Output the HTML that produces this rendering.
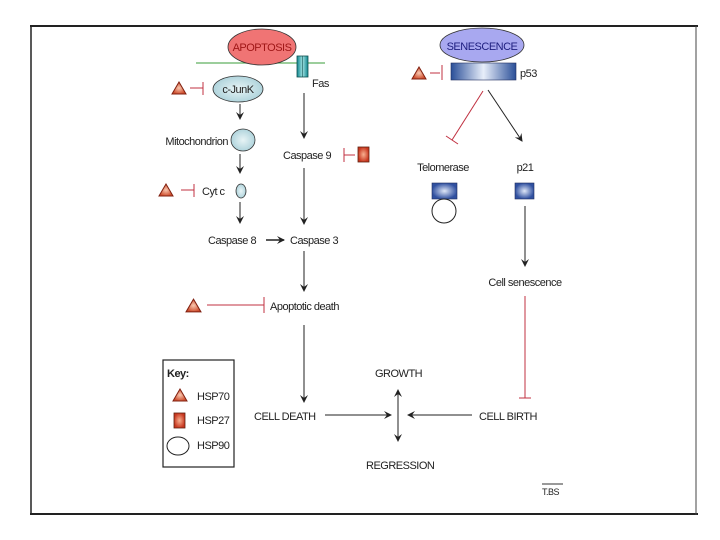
<!DOCTYPE html>
<html><head><meta charset="utf-8"><style>
html,body{margin:0;padding:0;background:#fff;width:720px;height:540px;overflow:hidden}
text{font-family:"Liberation Sans",sans-serif;font-size:11px;fill:#222;letter-spacing:-0.5px}
</style></head><body>
<svg width="720" height="540" viewBox="0 0 720 540" xmlns="http://www.w3.org/2000/svg">
<defs>
<linearGradient id="bg" x1="0" x2="1" y1="0" y2="0"><stop offset="0" stop-color="#2a4f98"/><stop offset="0.5" stop-color="#e8eefa"/><stop offset="1" stop-color="#2a4f98"/></linearGradient>
<radialGradient id="bs"><stop offset="0" stop-color="#e0e8f8"/><stop offset="1" stop-color="#3050a0"/></radialGradient>
<radialGradient id="tri"><stop offset="0" stop-color="#f8c8b0"/><stop offset="1" stop-color="#d05030"/></radialGradient>
<radialGradient id="sq"><stop offset="0" stop-color="#f8b090"/><stop offset="1" stop-color="#c83820"/></radialGradient>
<radialGradient id="lb"><stop offset="0" stop-color="#e8f4f6"/><stop offset="1" stop-color="#b0d4dc"/></radialGradient>
<linearGradient id="teal" x1="0" x2="1"><stop offset="0" stop-color="#108890"/><stop offset="0.5" stop-color="#a0e0e0"/><stop offset="1" stop-color="#108890"/></linearGradient>
<marker id="ar" markerWidth="8" markerHeight="8" refX="7" refY="4" orient="auto" markerUnits="userSpaceOnUse"><path d="M0,0 L8,4 L0,8 L3,4 Z" fill="#222"/></marker>
<symbol id="t" viewBox="0 0 16 14"><polygon points="8,1 15,13 1,13" fill="url(#tri)" stroke="#802010" stroke-width="1"/></symbol>
</defs>
<!-- frame -->
<line x1="30" y1="26" x2="698" y2="26" stroke="#222" stroke-width="2"/>
<line x1="31" y1="26" x2="31" y2="515" stroke="#222" stroke-width="1.5"/>
<line x1="30" y1="514" x2="698" y2="514" stroke="#222" stroke-width="2"/>
<line x1="696" y1="26" x2="696" y2="515" stroke="#444" stroke-width="1"/>

<!-- apoptosis -->
<line x1="196" y1="63" x2="325" y2="63" stroke="#60b060" stroke-width="1.2"/>
<ellipse cx="262" cy="47" rx="34" ry="18" fill="#f07474" stroke="#333" stroke-width="0.8"/>
<text x="262" y="51" text-anchor="middle" style="fill:#a01818">APOPTOSIS</text>
<rect x="297" y="56" width="11" height="21" fill="url(#teal)" stroke="#105050" stroke-width="0.8"/>
<line x1="302.5" y1="56" x2="302.5" y2="77" stroke="#105050" stroke-width="0.6"/>
<text x="312" y="87">Fas</text>
<ellipse cx="238" cy="89" rx="25" ry="13" fill="url(#lb)" stroke="#333" stroke-width="0.8"/>
<text x="238" y="93" text-anchor="middle">c-JunK</text>
<use href="#t" x="171" y="81" width="16" height="14"/>
<line x1="190" y1="88" x2="203" y2="88" stroke="#c03040" stroke-width="1"/>
<line x1="203" y1="82" x2="203" y2="95" stroke="#c03040" stroke-width="1"/>
<line x1="240" y1="104" x2="240" y2="119" stroke="#222" marker-end="url(#ar)"/>
<ellipse cx="243" cy="140" rx="12" ry="11" fill="url(#lb)" stroke="#333" stroke-width="0.8"/>
<text x="228" y="145" text-anchor="end">Mitochondrion</text>
<line x1="240" y1="154" x2="240" y2="173" stroke="#222" marker-end="url(#ar)"/>
<use href="#t" x="158" y="183" width="16" height="14"/>
<line x1="181" y1="190" x2="194" y2="190" stroke="#c03040"/>
<line x1="194" y1="184" x2="194" y2="197" stroke="#c03040"/>
<text x="202" y="195">Cyt c</text>
<ellipse cx="241" cy="191" rx="5" ry="7" fill="url(#lb)" stroke="#333" stroke-width="0.8"/>
<line x1="240" y1="202" x2="240" y2="223" stroke="#222" marker-end="url(#ar)"/>
<text x="208" y="244">Caspase 8</text>
<line x1="266" y1="240" x2="284" y2="240" stroke="#222" stroke-width="1.5" marker-end="url(#ar)"/>
<text x="290" y="244">Caspase 3</text>
<line x1="304" y1="93" x2="304" y2="138" stroke="#222" marker-end="url(#ar)"/>
<text x="283" y="159">Caspase 9</text>
<line x1="344" y1="148" x2="344" y2="162" stroke="#c03040"/>
<line x1="344" y1="155" x2="355" y2="155" stroke="#c03040"/>
<rect x="358" y="147" width="11" height="15" fill="url(#sq)" stroke="#602010" stroke-width="0.8"/>
<line x1="304" y1="168" x2="304" y2="224" stroke="#222" marker-end="url(#ar)"/>
<line x1="304" y1="251" x2="304" y2="291" stroke="#222" marker-end="url(#ar)"/>
<use href="#t" x="185" y="298" width="17" height="15"/>
<line x1="207" y1="305" x2="264" y2="305" stroke="#c03040"/>
<line x1="264" y1="297" x2="264" y2="313" stroke="#c03040"/>
<text x="270" y="310">Apoptotic death</text>
<line x1="304" y1="325" x2="304" y2="402" stroke="#222" marker-end="url(#ar)"/>
<text x="254" y="420">CELL DEATH</text>
<line x1="325" y1="415" x2="391" y2="415" stroke="#222" marker-end="url(#ar)"/>
<text x="375" y="377">GROWTH</text>
<line x1="398" y1="415" x2="398" y2="390" stroke="#222" marker-end="url(#ar)"/>
<line x1="398" y1="415" x2="398" y2="441" stroke="#222" marker-end="url(#ar)"/>
<text x="366" y="469">REGRESSION</text>
<text x="479" y="420">CELL BIRTH</text>
<line x1="472" y1="415" x2="408" y2="415" stroke="#222" marker-end="url(#ar)"/>

<!-- key -->
<rect x="163" y="360" width="71" height="107" fill="#fff" stroke="#222" stroke-width="1.2"/>
<text x="167" y="377" style="font-weight:bold">Key:</text>
<use href="#t" x="172" y="388" width="16" height="14"/>
<text x="197" y="400">HSP70</text>
<rect x="174" y="413" width="11" height="15" fill="url(#sq)" stroke="#602010" stroke-width="0.8"/>
<text x="197" y="424">HSP27</text>
<ellipse cx="178" cy="446" rx="11" ry="9" fill="#fff" stroke="#222"/>
<text x="197" y="449">HSP90</text>

<!-- senescence -->
<ellipse cx="482" cy="45" rx="42" ry="17" fill="#a8a8f0" stroke="#333" stroke-width="0.8"/>
<text x="482" y="50" text-anchor="middle" style="fill:#202080">SENESCENCE</text>
<rect x="451" y="63" width="65" height="17" fill="url(#bg)" stroke="#203060" stroke-width="0.6"/>
<text x="520" y="77">p53</text>
<use href="#t" x="411" y="66" width="16" height="14"/>
<line x1="430" y1="73" x2="440" y2="73" stroke="#c03040"/>
<line x1="442" y1="65" x2="442" y2="80" stroke="#c03040"/>
<line x1="483" y1="91" x2="452" y2="140" stroke="#c03040"/>
<line x1="446" y1="136" x2="458" y2="144" stroke="#c03040"/>
<line x1="488" y1="90" x2="522" y2="141" stroke="#222" marker-end="url(#ar)"/>
<text x="443" y="171" text-anchor="middle">Telomerase</text>
<text x="525" y="171" text-anchor="middle">p21</text>
<rect x="432" y="183" width="25" height="16" fill="url(#bs)" stroke="#203060" stroke-width="0.6"/>
<circle cx="444" cy="211" r="12" fill="#fff" stroke="#222"/>
<rect x="515" y="183" width="19" height="16" fill="url(#bs)" stroke="#203060" stroke-width="0.6"/>
<line x1="525" y1="206" x2="525" y2="266" stroke="#222" marker-end="url(#ar)"/>
<text x="525" y="286" text-anchor="middle">Cell senescence</text>
<line x1="525" y1="296" x2="525" y2="398" stroke="#c03040"/>
<line x1="519" y1="398" x2="531" y2="398" stroke="#c03040"/>
<line x1="542" y1="484" x2="563" y2="484" stroke="#333"/>
<text x="542" y="495" style="font-size:9px">T.BS</text>
</svg>
</body></html>
